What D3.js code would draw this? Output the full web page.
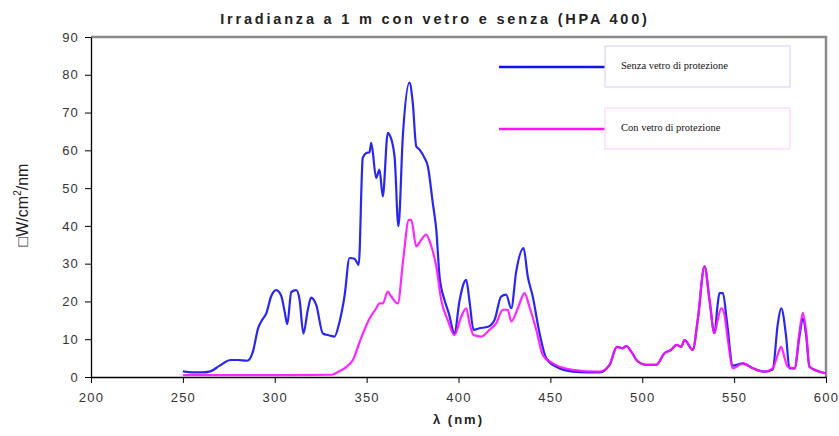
<!DOCTYPE html>
<html>
<head>
<meta charset="utf-8">
<script src="https://cdn.jsdelivr.net/npm/d3@7"></script>
<style>
  body { margin: 0; background: #fff; }
  svg { display: block; font-family: Arial, "Liberation Sans", sans-serif; }
</style>
</head>
<body>
<div id="chart"></div>
<script>
// --- DATI ---
const titleText = "Irradianza a 1 m con vetro e senza (HPA 400)";
const xTicks = [200, 250, 300, 350, 400, 450, 500, 550, 600];
const yTicks = [0, 10, 20, 30, 40, 50, 60, 70, 80, 90];
const seriesNames = ["Senza vetro di protezione", "Con vetro di protezione"];

// Senza vetro (blu): lunghezza d'onda [nm] e irradianza
const senzaWl = [250, 255, 260, 265, 270, 276, 280, 285, 288, 291, 293, 295.5, 298, 300.8, 303.5, 305.5, 306.8, 309, 311.7, 313.5,
  315.6, 318, 319.8, 322.6, 326.2, 329.8, 332.5, 335.2, 338, 340.7, 343.4, 345.7, 347.9, 349.8, 351.6, 352.5, 355.2, 357, 358.8, 361.5,
  362.4, 365.2, 367.3, 369.7, 373.3, 375.1, 377, 378.8, 381.5, 383.3, 386, 387.9, 389.7, 392.4, 394.7, 397.8, 400.5, 402.3, 404.2, 406,
  408.2, 411.4, 416, 419.6, 423.2, 425.9, 428.7, 431.4, 435.4, 437.7, 440.4, 444.1, 447.7, 453.2, 462.2, 470, 476.7, 482.2, 486.2, 489.4,
  491.3, 494, 497.6, 502.1, 507.6, 512.1, 515.7, 518.8, 521.2, 523, 527.5, 530.2, 533.9, 536.6, 539.3, 541, 542, 543.9, 546, 549.3,
  554.7, 560.2, 566.5, 571, 573.8, 575.6, 578.3, 580.1, 582.9, 585.6, 587.4, 589.2, 591, 596.5, 600];
const senzaVal = [1.5, 1.2, 1.2, 1.5, 3, 4.5, 4.5, 4.3, 6.5, 13, 15, 17, 21.3, 23, 21.5, 17, 14, 22.5, 23, 20.5,
  11.5, 17.8, 21, 19, 11.5, 11, 10.7, 14.5, 21.5, 31.5, 31.3, 29.7, 58, 59.3, 59.5, 62, 52.7, 54.9, 47.8, 64.6,
  64.2, 58.4, 39.9, 63.7, 77.9, 72.6, 61.1, 60.2, 58, 55.8, 46.1, 39, 26.6, 20.4, 16.9, 11.6, 20, 24, 25.7, 20,
  12.5, 12.9, 13.3, 15.1, 21.3, 21.8, 18.2, 27.9, 34.1, 26.6, 21.3, 11.6, 5, 2.7, 1.4, 1.2, 1.2, 3.2, 8, 7.6,
  8.2, 6.7, 4.1, 3.2, 3.2, 6.3, 7.2, 8.5, 8, 9.8, 7.2, 15.1, 29.3, 20.4, 11.6, 19, 22.2, 22.2, 15, 3,
  3.6, 2.3, 1.4, 2, 14.2, 18.2, 10.7, 2.3, 2.3, 11, 15.5, 11, 2.7, 1.4, 1];

// Con vetro (magenta)
const conWl = [250, 300, 331, 335, 339, 342.5, 346, 348.8, 351.6, 355, 357, 358.8, 361.5, 363.4, 367, 369.7, 373, 374.3, 377, 379.7,
  382.4, 385.2, 387.9, 390.6, 394.2, 397.8, 401.5, 404.2, 406, 408.2, 412.4, 416.9, 420.5, 424.1, 426.8, 428.7, 432.3, 435.9, 438.6, 442.3,
  445.9, 451.3, 462.2, 476.7, 482.2, 486.2, 489.4, 491.3, 494, 497.6, 502.1, 507.6, 512.1, 515.7, 518.8, 521.2, 523, 527.5, 530.2, 533.9,
  536.6, 539.3, 541, 543, 544.5, 546.6, 549.3, 554.7, 560.2, 566.5, 571, 573.8, 575.6, 577.5, 579.2, 582.9, 585.6, 587.4, 589.2, 591,
  596.5, 600];
const conVal = [0.5, 0.5, 0.6, 1.5, 2.7, 4.5, 9, 12.5, 15.5, 18, 19.5, 19.5, 22.6, 21.3, 19.5, 30.2, 41.6, 41.6, 34.6, 36.3,
  37.7, 34.6, 29.3, 20.4, 15, 11.1, 16, 18.2, 14.2, 11.1, 10.7, 12.5, 14.2, 17.8, 17.8, 14.7, 18.2, 22.2, 18.6, 12.5,
  5.8, 3.6, 1.9, 1.4, 3.2, 8, 7.6, 8.2, 6.7, 4.1, 3.2, 3.2, 6.3, 7.2, 8.5, 8, 9.8, 7.2, 15.1, 29.3,
  20.4, 11.6, 15, 18.2, 17, 9.8, 2.3, 3.6, 2.3, 1.4, 2.3, 6, 8, 5, 2.7, 2.3, 12, 17, 12, 2.7,
  1.4, 1];

// --- LAYOUT ---
const width = 839, height = 436;
const margin = { top: 37, right: 13, bottom: 59, left: 91 };

const svg = d3.select("#chart").append("svg")
  .attr("width", width)
  .attr("height", height);

const x = d3.scaleLinear().domain([200, 600]).range([margin.left, width - margin.right]);
const y = d3.scaleLinear().domain([0, 90]).range([height - margin.bottom, margin.top]);

// bordo grigio dell'area del grafico (sopra e a destra)
svg.append("path")
  .attr("d", `M${x(200)},${y(90)}H${x(600)}V${y(0)}`)
  .attr("fill", "none")
  .attr("stroke", "#8a8a8a")
  .attr("stroke-width", 2.5);

// titolo
svg.append("text")
  .attr("x", 435).attr("y", 24)
  .attr("text-anchor", "middle")
  .attr("font-size", 14.5)
  .attr("font-weight", "bold")
  .attr("letter-spacing", 2.8)
  .attr("fill", "#222")
  .text(titleText);

// assi
const xAxis = d3.axisBottom(x).tickValues(xTicks).tickSize(6).tickSizeOuter(0);
const yAxis = d3.axisLeft(y).tickValues(yTicks).tickSize(6).tickSizeOuter(0);

const gx = svg.append("g").attr("transform", `translate(0,${y(0)})`).call(xAxis);
const gy = svg.append("g").attr("transform", `translate(${x(200)},0)`).call(yAxis);

[gx, gy].forEach(g => {
  g.select(".domain").attr("stroke", "#000").attr("stroke-width", 1.3);
  g.selectAll(".tick line").attr("stroke", "#000");
  g.selectAll(".tick text")
    .attr("font-size", 13)
    .attr("letter-spacing", 1.2)
    .attr("fill", "#333")
    .attr("font-family", "Arial, 'Liberation Sans', sans-serif");
});
gx.selectAll(".tick text").attr("dy", "1.2em");
gy.selectAll(".tick text").attr("x", -12);

// etichette degli assi
svg.append("text")
  .attr("x", x(400)).attr("y", 424)
  .attr("text-anchor", "middle")
  .attr("font-size", 13)
  .attr("font-weight", "bold")
  .attr("letter-spacing", 2)
  .attr("fill", "#222")
  .text("λ (nm)");

const yLab = svg.append("text")
  .attr("transform", `translate(28,${y(45) - 2}) rotate(-90)`)
  .attr("text-anchor", "middle")
  .attr("font-size", 16)
  .attr("fill", "#222");
yLab.append("tspan").text("□W/cm");
yLab.append("tspan").attr("font-size", 10).attr("dy", -7).text("2");
yLab.append("tspan").attr("dy", 7).text("/nm");

// linee
const line = d3.line().x(d => x(d[0])).y(d => y(d[1])).curve(d3.curveMonotoneX);
const series = [
  { name: seriesNames[0], color: "#1010f0", pts: d3.zip(senzaWl, senzaVal), border: "#d8d8ff" },
  { name: seriesNames[1], color: "#ff10ff", pts: d3.zip(conWl, conVal), border: "#ffd0ff" }
];

series.forEach(s => {
  svg.append("path")
    .datum(s.pts)
    .attr("fill", "none")
    .attr("stroke", s.color)
    .attr("stroke-width", 2.2)
    .attr("stroke-opacity", 0.9)
    .attr("stroke-linejoin", "round")
    .attr("d", line);
});

// legenda
const legendY = [67, 129];
series.forEach((s, i) => {
  const g = svg.append("g").attr("transform", `translate(0,${legendY[i]})`);
  g.append("line")
    .attr("x1", 499).attr("x2", 605)
    .attr("stroke", s.color).attr("stroke-width", 2.5);
  g.append("rect")
    .attr("x", 605).attr("y", -21)
    .attr("width", 185).attr("height", 41)
    .attr("fill", "#fff")
    .attr("stroke", s.border).attr("stroke-width", 1.2);
  g.append("text")
    .attr("x", 621).attr("y", 2)
    .attr("font-family", "'Liberation Serif', 'Times New Roman', serif")
    .attr("font-size", 10.5)
    .attr("fill", "#111")
    .text(s.name);
});
</script>
</body>
</html>
